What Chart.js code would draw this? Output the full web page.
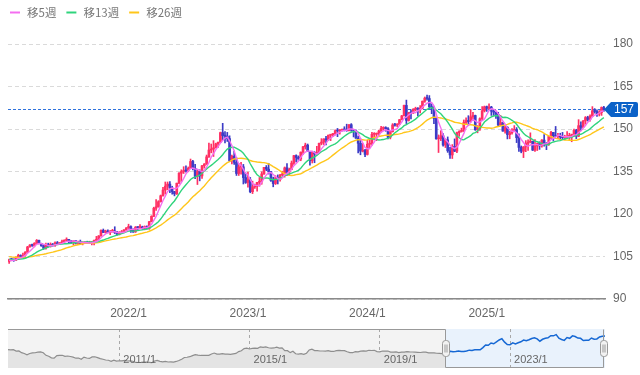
<!DOCTYPE html>
<html>
<head>
<meta charset="utf-8">
<script src="https://cdn.jsdelivr.net/npm/chart.js@4.4.1/dist/chart.umd.min.js"></script>
<style>
html,body{margin:0;padding:0;background:#fff;width:640px;height:375px;overflow:hidden}
#main{position:absolute;left:0;top:0}
#nav{position:absolute;left:0;top:325px}
</style>
</head>
<body>
<canvas id="main" width="640" height="325"></canvas>
<canvas id="nav" width="640" height="50"></canvas>
<script>
// ---------- DATA (USD/JPY weekly) ----------
const firstWeek = [2021, 1, 8];
// closes of the 26 weeks before the first shown week (for the moving averages)
const preClose = [106.9,107.0,106.1,105.9,105.9,106.6,105.8,105.4,106.2,106.1,104.6,105.6,105.3,
  105.6,105.4,104.7,104.7,103.4,104.6,103.9,104.1,104.2,104.0,103.3,103.6,103.25];

const weekClose = [
  103.94,103.86,103.77,104.68,105.38,104.95,105.45,106.57,108.36,109.04,108.88,109.64,110.69,109.66,108.78,107.88,109.30,108.58,109.36,108.96,109.84,109.52,109.67,110.21,110.75,111.05,110.14,110.06,110.55,109.72,110.25,109.57,109.79,109.84,109.71,109.92,109.97,110.74,111.05,112.24,114.21,113.47,113.96,113.40,113.89,114.00,113.38,112.80,113.43,113.72,114.38,115.08,
  115.56,114.19,113.68,115.26,115.23,115.41,114.99,115.55,114.79,117.29,119.16,122.05,122.53,124.34,126.44,128.45,129.83,130.55,129.20,127.88,127.10,130.88,134.40,134.99,135.22,135.21,136.11,138.54,136.12,133.27,135.03,133.45,137.00,137.63,140.17,142.58,142.91,143.34,144.74,145.33,148.72,147.66,147.46,146.62,138.79,140.39,138.24,134.31,136.58,136.66,132.84,131.12,
  132.08,127.87,129.59,129.86,131.19,131.37,134.16,136.46,135.85,134.99,131.82,130.75,132.79,132.18,133.78,134.15,136.29,134.82,135.71,137.96,140.60,139.96,139.39,141.84,143.72,144.31,142.10,138.80,141.72,141.17,141.75,144.96,145.38,146.44,146.22,147.81,147.86,148.36,149.37,149.32,149.57,149.86,149.65,149.39,151.52,149.62,149.45,146.79,144.97,142.18,142.40,141.03,
  144.63,144.88,148.14,148.14,148.38,149.28,150.21,150.50,150.11,147.06,149.05,151.42,151.35,151.62,153.28,154.64,158.33,153.05,155.78,155.66,156.98,157.31,156.75,157.38,159.80,160.88,160.76,157.87,157.46,153.76,146.53,146.60,147.63,144.35,146.17,142.30,140.85,143.86,142.19,148.70,149.13,149.51,152.30,152.98,152.64,154.30,154.76,149.77,150.00,153.65,156.40,157.86,
  157.29,157.74,156.30,155.97,155.17,151.39,152.26,149.26,150.63,148.03,148.64,149.31,149.83,146.93,143.50,142.17,143.69,144.93,145.36,145.66,142.55,144.03,144.85,144.06,146.09,144.65,144.46,147.38,148.80,147.67,147.40,147.73,147.20,146.94,147.05,147.40,147.68,147.95,149.50,147.47,151.18,150.60,152.86,154.05,153.40,154.55,156.40,156.20,155.30,155.80,157.60,156.90
];
const weekHigh = [
  104.1,104.4,104.1,104.9,105.8,105.6,106.2,106.7,108.6,109.2,109.4,109.9,111.0,110.8,109.7,108.9,109.7,109.7,109.8,109.6,110.2,110.3,109.9,110.8,110.9,111.6,111.1,110.7,110.6,110.6,110.4,110.8,110.2,110.2,110.4,110.4,110.0,110.8,112.1,112.4,114.4,114.7,114.3,114.4,114.2,114.6,115.5,113.9,113.8,114.2,114.5,115.2,
  116.4,115.8,114.8,115.6,115.5,116.3,115.7,115.8,115.8,117.4,119.4,122.4,125.1,124.7,126.7,129.4,131.3,131.3,131.4,129.8,128.0,130.9,134.6,135.6,136.7,137.0,136.6,139.4,138.9,137.5,135.6,135.6,137.2,137.8,140.8,145.0,144.7,145.9,145.0,145.4,148.9,152.0,149.1,148.8,147.6,140.8,142.2,139.9,137.9,138.2,137.5,134.5,
  134.8,132.9,131.6,130.6,131.2,132.9,134.9,136.5,137.1,137.9,135.1,133.0,133.5,133.8,134.0,135.1,136.6,137.8,136.2,138.7,140.7,140.9,140.5,141.9,143.9,145.0,144.7,142.1,141.9,142.0,143.9,145.0,146.6,146.6,147.4,147.9,148.0,148.5,149.7,150.2,149.8,150.0,150.8,151.7,151.6,151.9,149.7,149.7,147.5,146.6,144.9,142.8,
  146.0,146.4,148.8,148.7,148.6,149.6,150.9,150.8,150.8,150.5,149.2,151.9,152.0,151.9,153.4,154.8,158.4,160.2,155.9,156.8,157.2,157.7,157.6,158.3,159.9,161.3,162.0,161.8,158.9,157.9,154.2,147.9,149.4,148.4,146.5,147.2,143.5,144.5,146.5,148.9,149.4,150.3,153.2,153.9,154.7,156.8,155.9,154.9,151.2,153.9,157.9,158.1,
  158.1,158.9,158.0,156.7,156.0,155.9,154.8,152.3,151.2,150.8,149.2,150.15,151.2,150.5,148.3,144.0,143.8,145.9,146.2,148.65,145.7,146.3,145.0,145.5,146.3,148.0,145.2,147.5,149.2,148.8,150.9,148.5,148.5,148.8,147.8,149.1,148.5,148.2,150.0,149.9,153.3,152.5,153.0,154.4,154.5,155.0,157.9,157.2,156.8,156.5,157.8,158.0
];
const weekLow = [
  102.6,103.5,103.3,103.5,104.5,104.5,104.9,105.1,106.4,108.3,108.6,108.4,109.6,109.4,108.6,107.5,107.6,108.3,108.3,108.6,108.6,109.3,109.2,109.6,109.9,110.4,109.5,109.7,109.1,109.4,109.2,109.4,109.1,109.5,109.6,109.6,109.1,109.1,110.7,110.8,112.2,113.4,113.3,113.3,112.7,113.6,113.1,112.5,112.6,113.2,113.4,114.3,
  114.9,113.5,113.5,113.5,114.2,114.9,114.6,114.4,114.7,114.6,117.2,119.1,121.3,122.4,124.2,126.3,127.0,128.6,127.5,127.0,126.4,126.9,130.7,131.5,134.3,134.8,134.9,136.0,135.6,132.5,130.4,131.7,132.6,136.2,137.5,140.0,141.6,140.3,143.3,143.5,145.2,146.2,145.1,145.6,138.5,137.7,137.5,133.6,133.6,134.1,130.6,130.8,
  129.5,127.5,127.2,129.0,128.1,129.8,130.5,134.0,135.3,134.1,131.5,129.6,130.4,130.6,131.6,133.5,133.0,133.5,133.7,135.6,137.5,138.4,138.8,138.8,141.0,142.9,142.0,137.2,138.0,138.1,141.1,141.5,144.4,144.5,144.4,146.0,145.9,147.3,147.9,147.3,148.2,149.2,149.3,149.2,149.3,149.2,147.2,146.7,141.6,140.9,141.9,140.25,
  140.8,143.4,144.3,146.65,145.9,147.6,148.8,149.5,149.2,146.5,146.5,148.9,151.0,150.8,151.5,153.2,154.6,151.9,152.8,153.6,155.5,156.4,154.6,155.7,157.1,159.4,160.2,157.4,155.4,151.9,146.4,141.7,145.9,143.95,143.45,141.75,139.6,139.58,142.0,141.65,147.4,148.9,149.1,151.5,151.3,152.4,153.0,149.5,148.65,149.5,152.9,156.0,
  156.2,156.9,154.8,154.8,153.7,150.9,151.2,149.2,148.55,146.5,146.55,148.2,149.1,145.2,142.1,141.6,139.9,142.0,142.4,145.1,142.4,142.1,142.4,142.8,143.6,143.9,142.7,144.2,146.6,145.9,147.3,146.6,146.2,146.6,146.2,146.8,146.3,145.5,147.4,146.6,147.3,149.4,150.4,151.7,152.8,152.8,154.3,155.6,154.4,154.6,154.8,156.2
];
const yearTicks = ['2022/1','2023/1','2024/1','2025/1'];
const yTicks = [90,105,120,135,150,165,180];
const maSpans = [5,13,26];
const maNames = ['移5週','移13週','移26週'];

// navigator: monthly closes from 2007/8
const navStart = [2007, 8];
const navClose = [
  115.8,114.8,115.3,111.2,111.7,
  106.4,103.9,99.7,103.9,105.5,106.2,107.9,108.8,106.0,98.3,95.5,90.6,
  89.9,97.6,98.3,98.5,95.3,96.3,94.7,93.0,89.7,90.1,86.3,92.9,
  90.3,88.9,93.5,94.0,91.3,88.4,86.4,84.2,83.5,80.4,83.7,81.1,
  82.0,81.8,83.1,81.2,81.5,80.5,76.8,76.6,77.0,78.1,77.6,76.9,
  76.2,81.1,82.8,80.0,78.3,79.8,78.1,78.4,77.9,79.8,82.5,86.7,
  91.7,92.6,94.2,97.5,100.5,99.1,97.9,98.2,98.3,98.4,102.4,105.3,
  102.0,101.8,103.2,102.2,101.8,101.3,102.8,104.1,109.6,112.3,118.6,119.8,
  117.5,119.6,120.1,119.4,124.1,122.5,124.1,121.2,119.9,120.6,123.1,120.2,
  121.1,112.7,112.5,106.5,110.7,103.2,102.1,103.4,101.3,104.8,114.5,117.0,
  112.8,112.7,111.4,111.5,110.8,112.4,110.3,110.0,112.5,113.6,112.5,112.7,
  109.2,106.7,106.3,109.3,108.8,110.8,111.9,111.0,113.7,112.9,113.5,109.7,
  108.9,111.4,110.9,111.4,108.3,107.8,108.7,106.3,108.1,108.0,109.5,108.6,
  108.4,107.9,107.5,106.9,107.8,107.9,105.9,105.9,105.5,104.7,104.1,103.3,
  104.7,106.6,110.7,109.3,109.6,111.1,109.7,110.0,111.3,114.0,113.2,115.1,
  115.1,115.0,121.7,129.8,128.7,135.7,133.3,139.0,144.7,148.7,138.1,131.1,
  130.1,136.2,132.8,136.3,139.3,144.3,142.3,145.5,149.4,151.7,148.2,141.0,
  146.9,149.9,151.3,157.8,157.3,160.9,150.0,146.2,143.6,152.0,149.8,157.2,
  155.2,150.6,149.8,143.1,144.0,144.0,150.7,147.1,148.0,154.0,156.2,156.9
];
const navTicks = ['2011/1','2015/1','2019/1','2023/1'];
const navFocus = '2021/1';

// ---------- STYLE ----------
const UP = '#ff3064', DOWN = '#3c3cc6';
const maColors = ['#f46ef0','#2fd47c','#ffc61a'];
const NUMFONT = "'Liberation Sans', Arial, sans-serif";
const JPFONT = "'Noto Sans CJK JP', 'Noto Sans', sans-serif";

// ---------- DERIVED ----------
const weekLabels = weekClose.map((_, i) => {
  const d = new Date(Date.UTC(firstWeek[0], firstWeek[1] - 1, firstWeek[2] + 7 * i));
  return d.getUTCFullYear() + '/' + (d.getUTCMonth() + 1) + '/' + d.getUTCDate();
});
// FX weekly open = previous week's close
const weekOpen = weekClose.map((c, i) => i ? weekClose[i - 1] : preClose[preClose.length - 1]);
const allClose = preClose.concat(weekClose);
function movingAverage(span) {
  return weekClose.map((_, i) => {
    const end = preClose.length + i;
    let s = 0;
    for (let k = end - span + 1; k <= end; k++) s += allClose[k];
    return s / span;
  });
}
const candleColor = weekClose.map((c, i) => c >= weekOpen[i] ? UP : DOWN);
const wickData = weekClose.map((c, i) => [Math.min(weekLow[i], weekOpen[i], c), Math.max(weekHigh[i], weekOpen[i], c)]);
const bodyData = weekClose.map((c, i) => [weekOpen[i], c]);

function yearTickLabel(label) {
  const p = label.split('/');
  if (p[1] === '1' && +p[2] <= 7) {
    const t = p[0] + '/1';
    if (yearTicks.includes(t)) return t;
  }
  return '';
}

// ---------- MAIN CHART ----------
const legendPlugin = {
  id: 'maLegend',
  afterDraw(chart) {
    const ctx = chart.ctx;
    ctx.save();
    ctx.font = '11.5px ' + JPFONT;
    ctx.textBaseline = 'middle';
    let x = 10;
    const y = 12.5;
    chart.data.datasets.forEach(ds => {
      if (!ds.maLegend) return;
      ctx.strokeStyle = ds.borderColor;
      ctx.lineWidth = 2;
      ctx.beginPath(); ctx.moveTo(x, y); ctx.lineTo(x + 10, y); ctx.stroke();
      ctx.fillStyle = '#777';
      ctx.textAlign = 'left';
      ctx.fillText(ds.label, x + 17, y);
      x += 17 + ctx.measureText(ds.label).width + 10;
    });
    ctx.restore();
  }
};
const priceLinePlugin = {
  id: 'priceLine',
  beforeDatasetsDraw(chart) {
    const ctx = chart.ctx, a = chart.chartArea;
    const y = Math.round(chart.scales.y.getPixelForValue(weekClose[weekClose.length - 1])) + 0.5;
    ctx.save();
    ctx.strokeStyle = '#2f72dc';
    ctx.lineWidth = 1;
    ctx.setLineDash([3, 2]);
    ctx.beginPath(); ctx.moveTo(a.left, y); ctx.lineTo(a.right, y); ctx.stroke();
    ctx.restore();
  },
  afterDraw(chart) {
    const ctx = chart.ctx, a = chart.chartArea;
    const last = weekClose[weekClose.length - 1];
    const y = chart.scales.y.getPixelForValue(last);
    const x0 = a.right - 1, h = 7.5, xr = 638, r = 2;
    ctx.save();
    ctx.fillStyle = '#0b62c8';
    ctx.beginPath();
    ctx.moveTo(x0, y);
    ctx.lineTo(x0 + 7, y - h);
    ctx.lineTo(xr - r, y - h);
    ctx.quadraticCurveTo(xr, y - h, xr, y - h + r);
    ctx.lineTo(xr, y + h - r);
    ctx.quadraticCurveTo(xr, y + h, xr - r, y + h);
    ctx.lineTo(x0 + 7, y + h);
    ctx.closePath();
    ctx.fill();
    ctx.fillStyle = '#fff';
    ctx.font = '12px ' + NUMFONT;
    ctx.textAlign = 'left';
    ctx.textBaseline = 'middle';
    ctx.fillText(String(Math.round(last)), 614, y + 0.5);
    ctx.restore();
  }
};

new Chart(document.getElementById('main'), {
  type: 'bar',
  data: {
    labels: weekLabels,
    datasets: [
      ...maSpans.map((span, k) => ({
        type: 'line', label: maNames[k], maLegend: true, data: movingAverage(span),
        borderColor: maColors[k], borderWidth: 1.4, pointRadius: 0, fill: false, tension: 0, order: k
      })),
      { type: 'bar', label: 'wick', data: wickData, backgroundColor: candleColor,
        barThickness: 1, grouped: false, order: 5 },
      { type: 'bar', label: 'body', data: bodyData, backgroundColor: candleColor,
        barThickness: 2, grouped: false, minBarLength: 1, order: 4 }
    ]
  },
  options: {
    responsive: false, animation: false, events: [],
    layout: { padding: { left: 8, right: 0, top: 44, bottom: 0 } },
    plugins: { legend: { display: false }, tooltip: { enabled: false } },
    scales: {
      x: {
        type: 'category', offset: true,
        grid: { display: false, drawTicks: false },
        border: { display: true, color: '#8a8a8a', width: 1.5 },
        ticks: { autoSkip: false, maxRotation: 0, minRotation: 0, padding: 7, color: '#666',
          font: { size: 12, family: NUMFONT },
          callback(v, i) { return yearTickLabel(weekLabels[i]); } },
        afterFit(s) { s.height = 26; }
      },
      y: {
        position: 'right', min: 90, max: 180,
        afterBuildTicks(s) { s.ticks = yTicks.map(v => ({ value: v })); },
        grid: { color: '#dadada', drawTicks: false, lineWidth: 1 },
        border: { display: false, dash: [4, 3] },
        ticks: { padding: 8, color: '#666', font: { size: 12, family: NUMFONT } },
        afterFit(s) { s.width = 35; }
      }
    }
  },
  plugins: [legendPlugin, priceLinePlugin]
});

// ---------- NAVIGATOR ----------
const navLabels = navClose.map((_, i) => {
  const m = navStart[1] - 1 + i;
  return (navStart[0] + Math.floor(m / 12)) + '/' + (m % 12 + 1);
});
const focusIdx = navLabels.indexOf(navFocus);
const navGray = navClose.map((v, i) => i <= focusIdx ? v : null);
const navBlue = navClose.map((v, i) => i >= focusIdx ? v : null);

const navPlugin = {
  id: 'navDeco',
  beforeDraw(chart) {
    const ctx = chart.ctx, a = chart.chartArea;
    const xs = chart.scales.x.getPixelForValue(focusIdx);
    ctx.save();
    ctx.fillStyle = '#f3f3f3';
    ctx.fillRect(a.left, a.top, xs - a.left, a.bottom - a.top);
    ctx.fillStyle = '#e9f2fc';
    ctx.fillRect(xs, a.top, a.right - xs, a.bottom - a.top);
    ctx.restore();
  },
  afterDatasetsDraw(chart) {
    const ctx = chart.ctx, a = chart.chartArea, sx = chart.scales.x;
    ctx.save();
    ctx.font = '11px ' + NUMFONT;
    ctx.fillStyle = '#666';
    ctx.textAlign = 'left';
    ctx.textBaseline = 'middle';
    navLabels.forEach((l, i) => {
      if (navTicks.includes(l)) ctx.fillText(l, sx.getPixelForValue(i) + 4, a.bottom - 8);
    });
    ctx.restore();
  },
  afterDraw(chart) {
    const ctx = chart.ctx, a = chart.chartArea;
    const xs = Math.round(chart.scales.x.getPixelForValue(focusIdx)) + 0.5;
    const xe = Math.round(a.right) - 1.5;
    const top = Math.round(a.top) + 0.5, bot = Math.round(a.bottom) - 0.5;
    ctx.save();
    ctx.strokeStyle = '#999';
    ctx.lineWidth = 1;
    ctx.beginPath();
    ctx.moveTo(a.left, top); ctx.lineTo(xs, top); ctx.lineTo(xs, bot); ctx.lineTo(xe, bot); ctx.lineTo(xe, top);
    ctx.stroke();
    const cy = (a.top + a.bottom) / 2 - 1;
    [xs, xe].forEach(x => {
      const w = 7, h = 16, r = 3;
      const l = Math.round(x - w / 2) + 0.5, t = Math.round(cy - h / 2) + 0.5;
      ctx.beginPath();
      ctx.moveTo(l + r, t); ctx.lineTo(l + w - r, t); ctx.quadraticCurveTo(l + w, t, l + w, t + r);
      ctx.lineTo(l + w, t + h - r); ctx.quadraticCurveTo(l + w, t + h, l + w - r, t + h);
      ctx.lineTo(l + r, t + h); ctx.quadraticCurveTo(l, t + h, l, t + h - r);
      ctx.lineTo(l, t + r); ctx.quadraticCurveTo(l, t, l + r, t);
      ctx.fillStyle = '#f2f2f2'; ctx.fill(); ctx.strokeStyle = '#999'; ctx.stroke();
      ctx.beginPath();
      ctx.moveTo(l + 2.5, t + 4); ctx.lineTo(l + 2.5, t + h - 4);
      ctx.moveTo(l + 4.5, t + 4); ctx.lineTo(l + 4.5, t + h - 4);
      ctx.stroke();
    });
    ctx.restore();
  }
};

new Chart(document.getElementById('nav'), {
  type: 'line',
  data: {
    labels: navLabels,
    datasets: [
      { data: navGray, borderColor: '#8e8e8e', borderWidth: 1.2, pointRadius: 0, fill: 'start',
        backgroundColor: '#e4e4e4', tension: 0 },
      { data: navBlue, borderColor: '#1668d4', borderWidth: 1.5, pointRadius: 0, fill: false, tension: 0 }
    ]
  },
  options: {
    responsive: false, animation: false, events: [],
    layout: { padding: { left: 8, right: 35, top: 4, bottom: 7 } },
    plugins: { legend: { display: false }, tooltip: { enabled: false } },
    scales: {
      x: {
        type: 'category', offset: false,
        grid: { drawTicks: false, lineWidth: 1,
          color: c => navTicks.includes(navLabels[c.index]) ? '#a8a8a8' : 'rgba(0,0,0,0)' },
        border: { display: false, dash: [3, 3] },
        ticks: { display: false, autoSkip: false },
        afterFit(s) { s.height = 0; }
      },
      y: { display: false, min: 60, max: 178 }
    }
  },
  plugins: [navPlugin]
});
</script>
</body>
</html>
